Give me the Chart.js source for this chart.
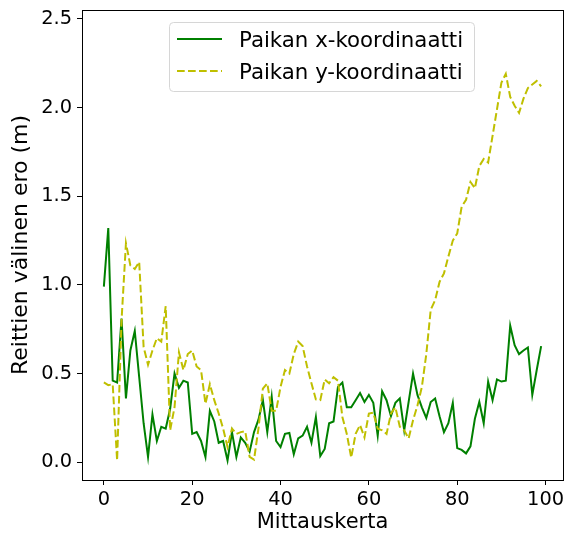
<!DOCTYPE html>
<html>
<head>
<meta charset="utf-8">
<script src="https://cdn.jsdelivr.net/npm/chart.js"></script>
<style>
  body { margin: 0; background: #fff; }
  canvas { display: block; }
</style>
</head>
<body>
<canvas id="kaavio" width="565" height="535"></canvas>
<script>
// Mittauskerrat 0..99
const mittauskerta = Array.from({ length: 100 }, (_, i) => i);

// Paikan x-koordinaatin ero (m)
const eroX = [
  0.99, 1.32, 0.46, 0.45, 0.81, 0.36, 0.63, 0.74, 0.48, 0.22,
  0.03, 0.27, 0.12, 0.20, 0.19, 0.30, 0.50, 0.42, 0.46, 0.45,
  0.16, 0.17, 0.12, 0.03, 0.29, 0.23, 0.11, 0.12, 0.01, 0.17,
  0.03, 0.14, 0.11, 0.06, 0.17, 0.24, 0.35, 0.17, 0.37, 0.12,
  0.085, 0.16, 0.165, 0.045, 0.135, 0.15, 0.20, 0.11, 0.255, 0.035,
  0.075, 0.22, 0.23, 0.425, 0.45, 0.31, 0.31, 0.35, 0.39, 0.34,
  0.38, 0.335, 0.15, 0.40, 0.35, 0.26, 0.335, 0.36, 0.18, 0.34,
  0.50, 0.38, 0.31, 0.25, 0.34, 0.36, 0.26, 0.17, 0.22, 0.335,
  0.08, 0.07, 0.05, 0.09, 0.245, 0.34, 0.22, 0.455, 0.35, 0.467,
  0.455, 0.46, 0.77, 0.66, 0.61, 0.63, 0.647, 0.38, 0.52, 0.655
];

// Paikan y-koordinaatin ero (m)
const eroY = [
  0.45, 0.435, 0.44, 0.01, 0.80, 1.235, 1.11, 1.09, 1.13, 0.65,
  0.55, 0.63, 0.70, 0.68, 0.88, 0.18, 0.31, 0.62, 0.52, 0.61,
  0.63, 0.54, 0.52, 0.33, 0.44, 0.35, 0.275, 0.19, 0.086, 0.19,
  0.16, 0.17, 0.175, 0.03, 0.015, 0.19, 0.415, 0.445, 0.29, 0.29,
  0.425, 0.52, 0.50, 0.61, 0.68, 0.655, 0.54, 0.445, 0.354, 0.35,
  0.467, 0.445, 0.48, 0.46, 0.255, 0.16, 0.026, 0.16, 0.21, 0.14,
  0.275, 0.28, 0.19, 0.18, 0.16, 0.275, 0.31, 0.20, 0.18, 0.134,
  0.237, 0.32, 0.425, 0.61, 0.86, 0.914, 1.017, 1.065, 1.16, 1.25,
  1.29, 1.44, 1.48, 1.58, 1.545, 1.67, 1.71, 1.69, 1.84, 1.99,
  2.14, 2.19, 2.06, 2.01, 1.97, 2.05, 2.11, 2.13, 2.15, 2.12
];

const xTicks = [0, 20, 40, 60, 80, 100];
const yTicks = [0.0, 0.5, 1.0, 1.5, 2.0, 2.5];
const sarjat = ['Paikan x-koordinaatti', 'Paikan y-koordinaatti'];

const FONT = '"DejaVu Sans", sans-serif';
const VIHREA = '#008000';
const KELTAINEN = '#bfbf00';

// kehys akseleiden ympärille
const kehys = {
  id: 'kehys',
  afterDatasetsDraw(chart) {
    const { ctx, chartArea: a } = chart;
    ctx.save();
    ctx.strokeStyle = '#000';
    ctx.lineWidth = 1;
    ctx.strokeRect(Math.round(a.left) + 0.5, Math.round(a.top) + 0.5,
      Math.round(a.right - a.left), Math.round(a.bottom - a.top));
    ctx.restore();
  }
};

// selite kuvaajan sisällä, kuten matplotlibissa
const selite = {
  id: 'selite',
  afterDraw(chart) {
    const ctx = chart.ctx;
    const x = 169, y = 22, w = 305, h = 69, r = 4;
    ctx.save();
    ctx.beginPath();
    ctx.roundRect(x + 0.5, y + 0.5, w, h, r);
    ctx.fillStyle = 'rgba(255,255,255,0.8)';
    ctx.fill();
    ctx.strokeStyle = '#d6d6d6';
    ctx.lineWidth = 1;
    ctx.stroke();

    const rivit = [
      { teksti: sarjat[0], vari: VIHREA, dash: [], yy: 39 },
      { teksti: sarjat[1], vari: KELTAINEN, dash: [7.7, 3.3], yy: 71 }
    ];
    rivit.forEach(rv => {
      ctx.beginPath();
      ctx.setLineDash(rv.dash);
      ctx.strokeStyle = rv.vari;
      ctx.lineWidth = 2;
      ctx.moveTo(177, rv.yy);
      ctx.lineTo(222, rv.yy);
      ctx.stroke();
      ctx.setLineDash([]);
      ctx.fillStyle = '#000';
      ctx.font = '21.3px ' + FONT;
      ctx.textBaseline = 'alphabetic';
      ctx.fillText(rv.teksti, 239, rv.yy + 7.5);
    });
    ctx.restore();
  }
};

new Chart(document.getElementById('kaavio'), {
  type: 'line',
  data: {
    labels: mittauskerta,
    datasets: [
      {
        label: sarjat[0],
        data: mittauskerta.map((m, i) => ({ x: m, y: eroX[i] })),
        borderColor: VIHREA,
        borderWidth: 2,
        pointRadius: 0,
        tension: 0,
        fill: false,
        order: 2
      },
      {
        label: sarjat[1],
        data: mittauskerta.map((m, i) => ({ x: m, y: eroY[i] })),
        borderColor: KELTAINEN,
        borderWidth: 2,
        borderDash: [7.7, 3.3],
        pointRadius: 0,
        tension: 0,
        fill: false,
        order: 1
      }
    ]
  },
  options: {
    responsive: false,
    animation: false,
    devicePixelRatio: 1,
    layout: { padding: { top: 10, right: 2, left: 0, bottom: 0 } },
    plugins: { legend: { display: false }, tooltip: { enabled: false } },
    scales: {
      x: {
        type: 'linear',
        min: -4.95,
        max: 103.95,
        afterBuildTicks: s => { s.ticks = xTicks.map(v => ({ value: v })); },
        afterFit: s => {
          s.height = 55;
          s.paddingLeft = 0;
          s.paddingRight = 0;
        },
        grid: { drawOnChartArea: false, drawTicks: true, tickLength: 5, color: '#000' },
        border: { display: false },
        ticks: {
          color: '#000',
          font: { family: FONT, size: 19.4 },
          padding: 3,
          maxRotation: 0,
          callback: v => String(v)
        },
        title: {
          display: true,
          text: 'Mittauskerta',
          color: '#000',
          font: { family: FONT, size: 21 },
          padding: { top: 0, bottom: 0 }
        }
      },
      y: {
        min: -0.1,
        max: 2.55,
        afterBuildTicks: s => { s.ticks = yTicks.map(v => ({ value: v })); },
        afterFit: s => {
          s.width = 82;
          s.paddingTop = 0;
          s.paddingBottom = 0;
        },
        grid: { drawOnChartArea: false, drawTicks: true, tickLength: 5, color: '#000' },
        border: { display: false },
        ticks: {
          color: '#000',
          font: { family: FONT, size: 19.4 },
          padding: 5,
          callback: v => v.toFixed(1)
        },
        title: {
          display: true,
          text: 'Reittien välinen ero (m)',
          color: '#000',
          font: { family: FONT, size: 22 },
          padding: { top: 8, bottom: 0 }
        }
      }
    }
  },
  plugins: [kehys, selite]
});
</script>
</body>
</html>
